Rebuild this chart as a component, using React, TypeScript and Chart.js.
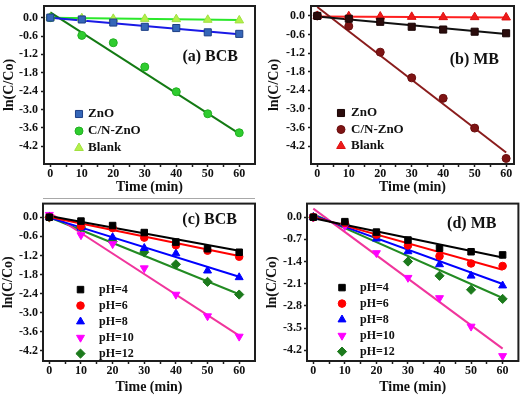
import React, { useEffect, useRef } from 'react';
import { Chart, registerables } from 'chart.js';
import { drawPoint } from 'chart.js/helpers';

Chart.register(...registerables);

const FONT = "'Liberation Serif', 'Times New Roman', serif";

// ---------- data ----------
const TIME = [0, 10, 20, 30, 40, 50, 60];
const FIT_X = [0, 60];
const X_TICKS = [0, 5, 10, 15, 20, 25, 30, 35, 40, 45, 50, 55, 60];
const Y_TICKS_06 = [0, -0.6, -1.2, -1.8, -2.4, -3.0, -3.6, -4.2];
const Y_TICKS_07 = [0, -0.7, -1.4, -2.1, -2.8, -3.5, -4.2];

// (a) BCB
const A_ZNO = [0, -0.06, -0.16, -0.3, -0.34, -0.48, -0.53];
const A_CNZNO = [0, -0.58, -0.82, -1.61, -2.42, -3.14, -3.76];
const A_BLANK = [0, -0.02, -0.04, -0.04, -0.05, -0.07, -0.09];
const A_FIT_ZNO = [0.0, -0.54];
const A_FIT_CNZNO = [0.17, -3.79];
const A_FIT_BLANK = [0.0, -0.08];

// (b) MB
const B_ZNO = [0, -0.09, -0.19, -0.35, -0.44, -0.51, -0.56];
const B_CNZNO = [0, -0.33, -1.17, -2.0, -2.66, -3.62, -4.6];
const B_BLANK = [0, -0.01, -0.02, -0.03, -0.04, -0.04, -0.05];
const B_FIT_ZNO = [-0.02, -0.58];
const B_FIT_CNZNO = [0.29, -4.41];
const B_FIT_BLANK = [-0.02, -0.05];

// (c) BCB, pH
const C_PH4 = [0, -0.12, -0.26, -0.48, -0.78, -0.99, -1.1];
const C_PH6 = [0, -0.28, -0.34, -0.64, -0.88, -1.05, -1.24];
const C_PH8 = [0, -0.33, -0.63, -0.97, -1.14, -1.68, -1.89];
const C_PH10 = [0.08, -0.56, -0.84, -1.6, -2.43, -3.11, -3.75];
const C_PH12 = [0, -0.31, -0.76, -1.1, -1.48, -2.03, -2.43];
const C_FIT_PH4 = [0.04, -1.05];
const C_FIT_PH6 = [0.01, -1.22];
const C_FIT_PH8 = [-0.01, -1.87];
const C_FIT_PH10 = [0.15, -3.72];
const C_FIT_PH12 = [0.0, -2.42];

// (d) MB, pH
const D_PH4 = [0, -0.14, -0.47, -0.72, -0.98, -1.09, -1.19];
const D_PH6 = [0, -0.18, -0.55, -0.89, -1.23, -1.46, -1.54];
const D_PH8 = [0, -0.2, -0.68, -1.08, -1.49, -1.85, -2.16];
const D_PH10 = [0, -0.28, -1.13, -1.91, -2.55, -3.45, -4.38];
const D_PH12 = [0, -0.22, -0.6, -1.4, -1.85, -2.29, -2.58];
const D_FIT_PH4 = [-0.03, -1.27];
const D_FIT_PH6 = [0.01, -1.66];
const D_FIT_PH8 = [0.06, -2.11];
const D_FIT_PH10 = [0.27, -4.15];
const D_FIT_PH12 = [0.1, -2.55];

// ---------- styles ----------
type Marker = { style: string; rotation?: number; radius: number; fill: string; border: string };
type Series = { label: string; values: number[]; fit: number[]; marker: Marker; lineColor: string };

const sq = (fill: string, border: string, r = 5): Marker => ({ style: 'rect', radius: r, fill, border });
const ci = (fill: string, border: string, r = 4): Marker => ({ style: 'circle', radius: r, fill, border });
const tri = (fill: string, border: string, r = 5): Marker => ({ style: 'triangle', radius: r, fill, border });
const triDown = (fill: string, border: string, r = 5): Marker => ({ style: 'triangle', rotation: 180, radius: r, fill, border });
const dia = (fill: string, border: string, r = 5): Marker => ({ style: 'rectRot', radius: r, fill, border });

type Panel = {
  left: number; top: number; width: number; height: number;
  area: { l: number; t: number; r: number; b: number };
  xMin: number; xMax: number; yMin: number; yMax: number;
  yTicks: number[];
  series: Series[];
  label: string; labelDx: number; labelDy: number;
  legend: { mx: number; tx: number; y0: number; dy: number; size: number };
  yTitlePad: number; xTitlePad: number; yTickPad: number;
};

const PANELS: Panel[] = [
  {
    left: 0, top: 0, width: 262, height: 198,
    area: { l: 44, t: 2, r: 255, b: 164 },
    xMin: -2, xMax: 65, yMin: -4.78, yMax: 0.38, yTicks: Y_TICKS_06,
    series: [
      { label: 'ZnO', values: A_ZNO, fit: A_FIT_ZNO, marker: sq('#3566b8', '#1d3f86', 5), lineColor: '#1a1ae6' },
      { label: 'C/N-ZnO', values: A_CNZNO, fit: A_FIT_CNZNO, marker: ci('#2fcc2f', '#22b022', 4), lineColor: '#137a13' },
      { label: 'Blank', values: A_BLANK, fit: A_FIT_BLANK, marker: tri('#b4f04a', '#a0e040', 5), lineColor: '#2ae82a' },
    ],
    label: '(a) BCB', labelDx: 17, labelDy: 51,
    legend: { mx: 35, tx: 44, y0: 108, dy: 17, size: 13 },
    yTitlePad: 0.5, xTitlePad: 2, yTickPad: 3,
  },
  {
    left: 262, top: 0, width: 262, height: 198,
    area: { l: 311, t: 4, r: 514, b: 164 },
    xMin: -2, xMax: 62.5, yMin: -4.78, yMax: 0.32, yTicks: Y_TICKS_06,
    series: [
      { label: 'ZnO', values: B_ZNO, fit: B_FIT_ZNO, marker: sq('#2a0c0c', '#1a0505', 5), lineColor: '#111111' },
      { label: 'C/N-ZnO', values: B_CNZNO, fit: B_FIT_CNZNO, marker: ci('#7e1414', '#6a0e0e', 4), lineColor: '#8a1c1c' },
      { label: 'Blank', values: B_BLANK, fit: B_FIT_BLANK, marker: tri('#ee1a1a', '#dd1010', 5), lineColor: '#ff2020' },
    ],
    label: '(b) MB', labelDx: 15, labelDy: 54,
    legend: { mx: 30, tx: 40, y0: 107, dy: 16.5, size: 13 },
    yTitlePad: 4, xTitlePad: 2, yTickPad: 3,
  },
  {
    left: 0, top: 198, width: 262, height: 199,
    area: { l: 43, t: 199, r: 255, b: 361 },
    xMin: -2, xMax: 65, yMin: -4.52, yMax: 0.43, yTicks: Y_TICKS_06,
    series: [
      { label: 'pH=4', values: C_PH4, fit: C_FIT_PH4, marker: sq('#000000', '#000000', 4.6), lineColor: '#000000' },
      { label: 'pH=6', values: C_PH6, fit: C_FIT_PH6, marker: ci('#ff0000', '#ff0000', 3.8), lineColor: '#ff0000' },
      { label: 'pH=8', values: C_PH8, fit: C_FIT_PH8, marker: tri('#0000ff', '#0000ff', 4.6), lineColor: '#0000ff' },
      { label: 'pH=10', values: C_PH10, fit: C_FIT_PH10, marker: triDown('#ff00ff', '#ff00ff', 4.6), lineColor: '#f0359c' },
      { label: 'pH=12', values: C_PH12, fit: C_FIT_PH12, marker: dia('#1c7a1c', '#1c7a1c', 4.6), lineColor: '#228b22' },
    ],
    label: '(c) BCB', labelDx: 18, labelDy: 16,
    legend: { mx: 37.5, tx: 56, y0: 86, dy: 16, size: 12 },
    yTitlePad: 0, xTitlePad: 1, yTickPad: 2,
  },
  {
    left: 262, top: 198, width: 262, height: 199,
    area: { l: 307, t: 200, r: 519, b: 361 },
    xMin: -2, xMax: 65, yMin: -4.54, yMax: 0.43, yTicks: Y_TICKS_07,
    series: [
      { label: 'pH=4', values: D_PH4, fit: D_FIT_PH4, marker: sq('#000000', '#000000', 4.6), lineColor: '#000000' },
      { label: 'pH=6', values: D_PH6, fit: D_FIT_PH6, marker: ci('#ff0000', '#ff0000', 3.8), lineColor: '#ff0000' },
      { label: 'pH=8', values: D_PH8, fit: D_FIT_PH8, marker: tri('#0000ff', '#0000ff', 4.6), lineColor: '#0000ff' },
      { label: 'pH=10', values: D_PH10, fit: D_FIT_PH10, marker: triDown('#ff00ff', '#ff00ff', 4.6), lineColor: '#f0359c' },
      { label: 'pH=12', values: D_PH12, fit: D_FIT_PH12, marker: dia('#1c7a1c', '#1c7a1c', 4.6), lineColor: '#228b22' },
    ],
    label: '(d) MB', labelDx: 22, labelDy: 20,
    legend: { mx: 35, tx: 53, y0: 84, dy: 16, size: 12 },
    yTitlePad: 1.5, xTitlePad: 1, yTickPad: 2,
  },
];

const TEXT = '#111111';
const FRAME = '#1e1e1e';

function zeroPad(s: any) {
  s.paddingTop = 0;
  s.paddingBottom = 0;
  s.paddingLeft = 0;
  s.paddingRight = 0;
}

function buildConfig(p: Panel): any {
  const datasets: any[] = [];
  p.series.forEach((s) => {
    datasets.push({
      label: s.label,
      data: TIME.map((t, i) => ({ x: t, y: s.values[i] })),
      showLine: false,
      pointStyle: s.marker.style,
      rotation: s.marker.rotation || 0,
      pointRadius: s.marker.radius,
      pointBackgroundColor: s.marker.fill,
      pointBorderColor: s.marker.border,
      pointBorderWidth: 1,
      order: 0,
    });
    datasets.push({
      label: s.label + ' fit',
      data: FIT_X.map((x, i) => ({ x, y: s.fit[i] })),
      showLine: true,
      borderColor: s.lineColor,
      borderWidth: 2,
      pointRadius: 0,
      fill: false,
      order: 1,
    });
  });

  const yAxisW = p.area.l - p.left;
  const xAxisH = p.top + p.height - p.area.b;

  const decor = {
    id: 'decor',
    afterDraw(chart: any) {
      const { ctx, chartArea } = chart;
      const { left, top, right, bottom } = chartArea;
      ctx.save();
      ctx.strokeStyle = FRAME;
      ctx.lineWidth = 2;
      ctx.strokeRect(left, top, right - left, bottom - top);
      ctx.fillStyle = TEXT;
      ctx.font = `bold 16px ${FONT}`;
      ctx.textAlign = 'right';
      ctx.textBaseline = 'middle';
      ctx.fillText(p.label, right - p.labelDx, top + p.labelDy);
      const lg = p.legend;
      ctx.font = `bold ${lg.size}px ${FONT}`;
      ctx.textAlign = 'left';
      p.series.forEach((s, i) => {
        const y = top + lg.y0 + i * lg.dy;
        ctx.fillStyle = s.marker.fill;
        ctx.strokeStyle = s.marker.border;
        ctx.lineWidth = 1;
        drawPoint(ctx, { pointStyle: s.marker.style, rotation: s.marker.rotation || 0, radius: s.marker.radius, borderWidth: 1 } as any, left + lg.mx, y);
        ctx.fillStyle = TEXT;
        ctx.fillText(s.label, left + lg.tx, y);
      });
      ctx.restore();
    },
  };

  return {
    type: 'scatter',
    data: { datasets },
    plugins: [decor],
    options: {
      animation: false,
      responsive: false,
      maintainAspectRatio: false,
      devicePixelRatio: 1,
      layout: { padding: { left: 0, top: p.area.t - p.top, right: p.left + p.width - p.area.r, bottom: 0 } },
      plugins: { legend: { display: false }, tooltip: { enabled: false } },
      scales: {
        x: {
          type: 'linear',
          min: p.xMin,
          max: p.xMax,
          afterBuildTicks: (s: any) => { s.ticks = X_TICKS.map((v) => ({ value: v })); },
          afterFit: (s: any) => { s.height = xAxisH; zeroPad(s); },
          ticks: {
            autoSkip: false,
            maxRotation: 0,
            padding: 0,
            color: TEXT,
            font: { family: FONT, size: 12, weight: 'bold' },
            callback: (v: any) => (Math.round(v) % 10 === 0 ? String(Math.round(v)) : ''),
          },
          grid: { drawOnChartArea: false, drawTicks: true, tickLength: 3, tickColor: FRAME, tickWidth: 1.5 },
          border: { display: false },
          title: { display: true, text: 'Time (min)', color: TEXT, font: { family: FONT, size: 14, weight: 'bold' }, padding: { top: 0, bottom: p.xTitlePad } },
        },
        y: {
          type: 'linear',
          min: p.yMin,
          max: p.yMax,
          afterBuildTicks: (s: any) => { s.ticks = p.yTicks.map((v) => ({ value: v })); },
          afterFit: (s: any) => { s.width = yAxisW; zeroPad(s); },
          ticks: {
            autoSkip: false,
            padding: p.yTickPad,
            color: TEXT,
            font: { family: FONT, size: 12, weight: 'bold' },
            callback: (v: any) => Number(v).toFixed(1),
          },
          grid: { drawOnChartArea: false, drawTicks: true, tickLength: 3, tickColor: FRAME, tickWidth: 1.5 },
          border: { display: false },
          title: { display: true, text: 'ln(C/Co)', color: TEXT, font: { family: FONT, size: 14, weight: 'bold' }, padding: { top: p.yTitlePad, bottom: 0 } },
        },
      },
    },
  };
}

function PanelChart({ p }: { p: Panel }) {
  const ref = useRef<HTMLCanvasElement | null>(null);
  useEffect(() => {
    if (!ref.current) return;
    const chart = new Chart(ref.current, buildConfig(p));
    return () => chart.destroy();
  }, [p]);
  return (
    <canvas
      ref={ref}
      width={p.width}
      height={p.height}
      style={{ position: 'absolute', left: p.left, top: p.top, width: p.width, height: p.height }}
    />
  );
}

export default function App() {
  return (
    <div style={{ position: 'fixed', left: 0, top: 0, width: 524, height: 397, background: '#ffffff', overflow: 'hidden' }}>
      {PANELS.map((p, i) => (
        <PanelChart key={i} p={p} />
      ))}
      <div style={{ position: 'absolute', left: 43, top: 198, width: 212, height: 1, background: '#a8a8a8' }} />
    </div>
  );
}
